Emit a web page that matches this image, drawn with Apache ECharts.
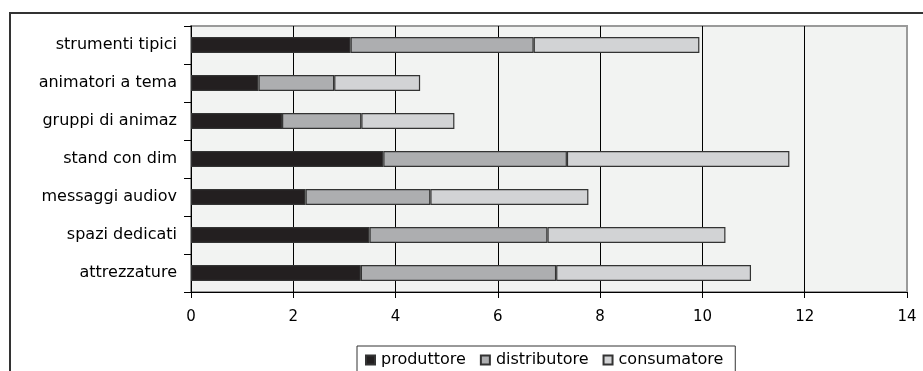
<!DOCTYPE html>
<html>
<head>
<meta charset="utf-8">
<style>
  html, body { margin: 0; padding: 0; background: #ffffff; }
  #chart { width: 923px; height: 371px; }
</style>
<script src="https://cdn.jsdelivr.net/npm/echarts@6/dist/echarts.min.js"></script>
</head>
<body>
<div id="chart"></div>
<script>
// Categories listed bottom to top (category y-axis starts at the bottom)
const categories = [
  'attrezzature',
  'spazi dedicati',
  'messaggi audiov',
  'stand con dim',
  'gruppi di animaz',
  'animatori a tema',
  'strumenti tipici'
];
const produttore   = [3.32, 3.49, 2.24, 3.76, 1.78, 1.32, 3.12];
const distributore = [3.82, 3.48, 2.44, 3.59, 1.55, 1.48, 3.58];
const consumatore  = [3.81, 3.48, 3.09, 4.35, 1.82, 1.68, 3.24];
const seriesNames  = ['produttore', 'distributore', 'consumatore'];
const xTicks = { min: 0, max: 14, step: 2 };

const font = 'DejaVu Sans, Verdana, sans-serif';
const colors = ['#231f20', '#adaeb0', '#d2d3d5'];
const values = [produttore, distributore, consumatore];

const chart = echarts.init(document.getElementById('chart'), null, { renderer: 'canvas' });

chart.setOption({
  animation: false,
  backgroundColor: '#ffffff',
  textStyle: { fontFamily: font },
  grid: {
    left: 191,
    right: 16,
    top: 26,
    height: 266,
    show: true,
    backgroundColor: '#f2f3f2',
    borderColor: '#9a9a9a',
    borderWidth: 2
  },
  legend: {
    data: seriesNames,
    left: 357,
    top: 346,
    orient: 'horizontal',
    icon: 'rect',
    itemWidth: 9,
    itemHeight: 9,
    itemGap: 14,
    padding: [6, 12, 8, 8],
    borderColor: '#333',
    borderWidth: 1,
    textStyle: { fontFamily: font, fontSize: 16, color: '#000', padding: [0, 0, 0, 1] }
  },
  xAxis: {
    type: 'value',
    min: xTicks.min,
    max: xTicks.max,
    interval: xTicks.step,
    axisLine: { show: true, lineStyle: { color: '#000', width: 1 } },
    axisTick: { show: true, length: 6, lineStyle: { color: '#000' } },
    axisLabel: { fontFamily: font, fontSize: 15, color: '#000', margin: 18 },
    splitLine: {
      show: true,
      lineStyle: {
        color: ['#000', '#000', '#000', '#000', '#000', '#000', '#000', '#9a9a9a'],
        width: 1
      }
    }
  },
  yAxis: {
    type: 'category',
    data: categories,
    axisLine: { show: true, lineStyle: { color: '#000', width: 1 } },
    axisTick: { show: true, length: 7, lineStyle: { color: '#000' } },
    axisLabel: { fontFamily: font, fontSize: 16, color: '#000', margin: 14 },
    splitLine: { show: false }
  },
  series: seriesNames.map((name, i) => ({
    name: name,
    type: 'bar',
    stack: 'total',
    barWidth: 16,
    data: values[i],
    itemStyle: { color: colors[i], borderColor: '#333', borderWidth: 1.2 }
  })),
  graphic: [
    {
      type: 'polyline',
      z: 100,
      shape: { points: [[10, 372], [10, 13], [923, 13]] },
      style: { stroke: '#333', lineWidth: 2, fill: null }
    }
  ]
});
</script>
</body>
</html>
